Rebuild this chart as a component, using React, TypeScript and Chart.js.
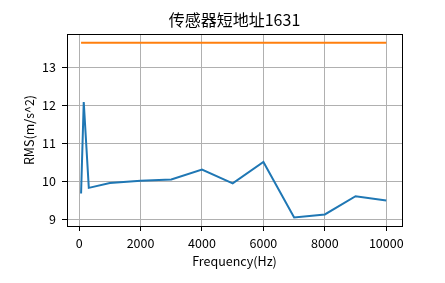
import React, { useEffect, useRef } from "react";
import { Chart, registerables } from "chart.js";

Chart.register(...registerables);

const frequencies = [63, 150, 315, 1000, 2000, 3000, 4000, 5000, 6000, 7000, 8000, 9000, 10000];
const rmsValues = [9.67, 12.08, 9.82, 9.95, 10.01, 10.04, 10.3, 9.94, 10.5, 9.04, 9.12, 9.6, 9.49];
const limitValue = 13.64;
const xTicks = [0, 2000, 4000, 6000, 8000, 10000];
const yTicks = [9, 10, 11, 12, 13];
const titleText = "传感器短地址1631";
const xLabel = "Frequency(Hz)";
const yLabel = "RMS(m/s^2)";

const FONT = "'Noto Sans CJK SC', 'Noto Sans', sans-serif";

export default function App() {
  const ref = useRef<HTMLCanvasElement>(null);
  useEffect(() => {
    document.body.style.margin = "0";
    const frame = {
      id: "frame",
      afterDraw(chart: any) {
        const { ctx, chartArea: a } = chart;
        ctx.save();
        ctx.strokeStyle = "#000";
        ctx.lineWidth = 1;
        ctx.strokeRect(Math.round(a.left) + 0.5, Math.round(a.top) + 0.5, Math.round(a.right - a.left), Math.round(a.bottom - a.top));
        ctx.fillStyle = "#000";
        ctx.font = `16px ${FONT}`;
        ctx.textAlign = "center";
        ctx.textBaseline = "middle";
        ctx.fillText(titleText, (a.left + a.right) / 2, 20);
        ctx.restore();
      },
    };
    const chart = new Chart(ref.current!, {
      type: "line",
      data: {
        datasets: [
          {
            data: frequencies.map((f, i) => ({ x: f, y: rmsValues[i] })),
            borderColor: "#1f77b4",
            borderWidth: 2,
            pointRadius: 0,
            tension: 0,
          },
          {
            data: [
              { x: frequencies[0], y: limitValue },
              { x: frequencies[frequencies.length - 1], y: limitValue },
            ],
            borderColor: "#ff7f0e",
            borderWidth: 2,
            pointRadius: 0,
          },
        ],
      },
      options: {
        animation: false,
        responsive: false,
        devicePixelRatio: 1,
        layout: { padding: { top: 34, right: 43, left: 0, bottom: 0 } },
        plugins: { legend: { display: false }, tooltip: { enabled: false }, title: { display: false } },
        scales: {
          x: {
            type: "linear",
            min: -395,
            max: 10512,
            afterFit(s: any) {
              s.height = 57;
            },
            afterBuildTicks(s: any) {
              s.ticks = xTicks.map((v) => ({ value: v }));
            },
            ticks: {
              color: "#000",
              font: { family: FONT, size: 12.5 },
              padding: 5,
              maxRotation: 0,
              callback: (v: any) => String(v),
            },
            grid: { color: "#b0b0b0", lineWidth: 1, tickLength: 5, tickColor: "#000" },
            border: { display: false },
            title: {
              display: true,
              text: xLabel,
              color: "#000",
              font: { family: FONT, size: 12.5 },
              padding: { top: 0, bottom: 14 },
            },
          },
          y: {
            min: 8.816,
            max: 13.87,
            afterFit(s: any) {
              s.width = 67;
            },
            afterBuildTicks(s: any) {
              s.ticks = yTicks.map((v) => ({ value: v }));
            },
            ticks: {
              color: "#000",
              font: { family: FONT, size: 12.5 },
              padding: 6,
              callback: (v: any) => String(v),
            },
            grid: { color: "#b0b0b0", lineWidth: 1, tickLength: 5, tickColor: "#000" },
            border: { display: false },
            title: {
              display: true,
              text: yLabel,
              color: "#000",
              font: { family: FONT, size: 12.5 },
              padding: { top: 22, bottom: 0 },
            },
          },
        },
      },
      plugins: [frame],
    } as any);
    return () => chart.destroy();
  }, []);
  return (
    <div style={{ position: "absolute", left: 0, top: 0, width: 445, height: 283, background: "#fff" }}>
      <canvas ref={ref} width={445} height={283} />
    </div>
  );
}
